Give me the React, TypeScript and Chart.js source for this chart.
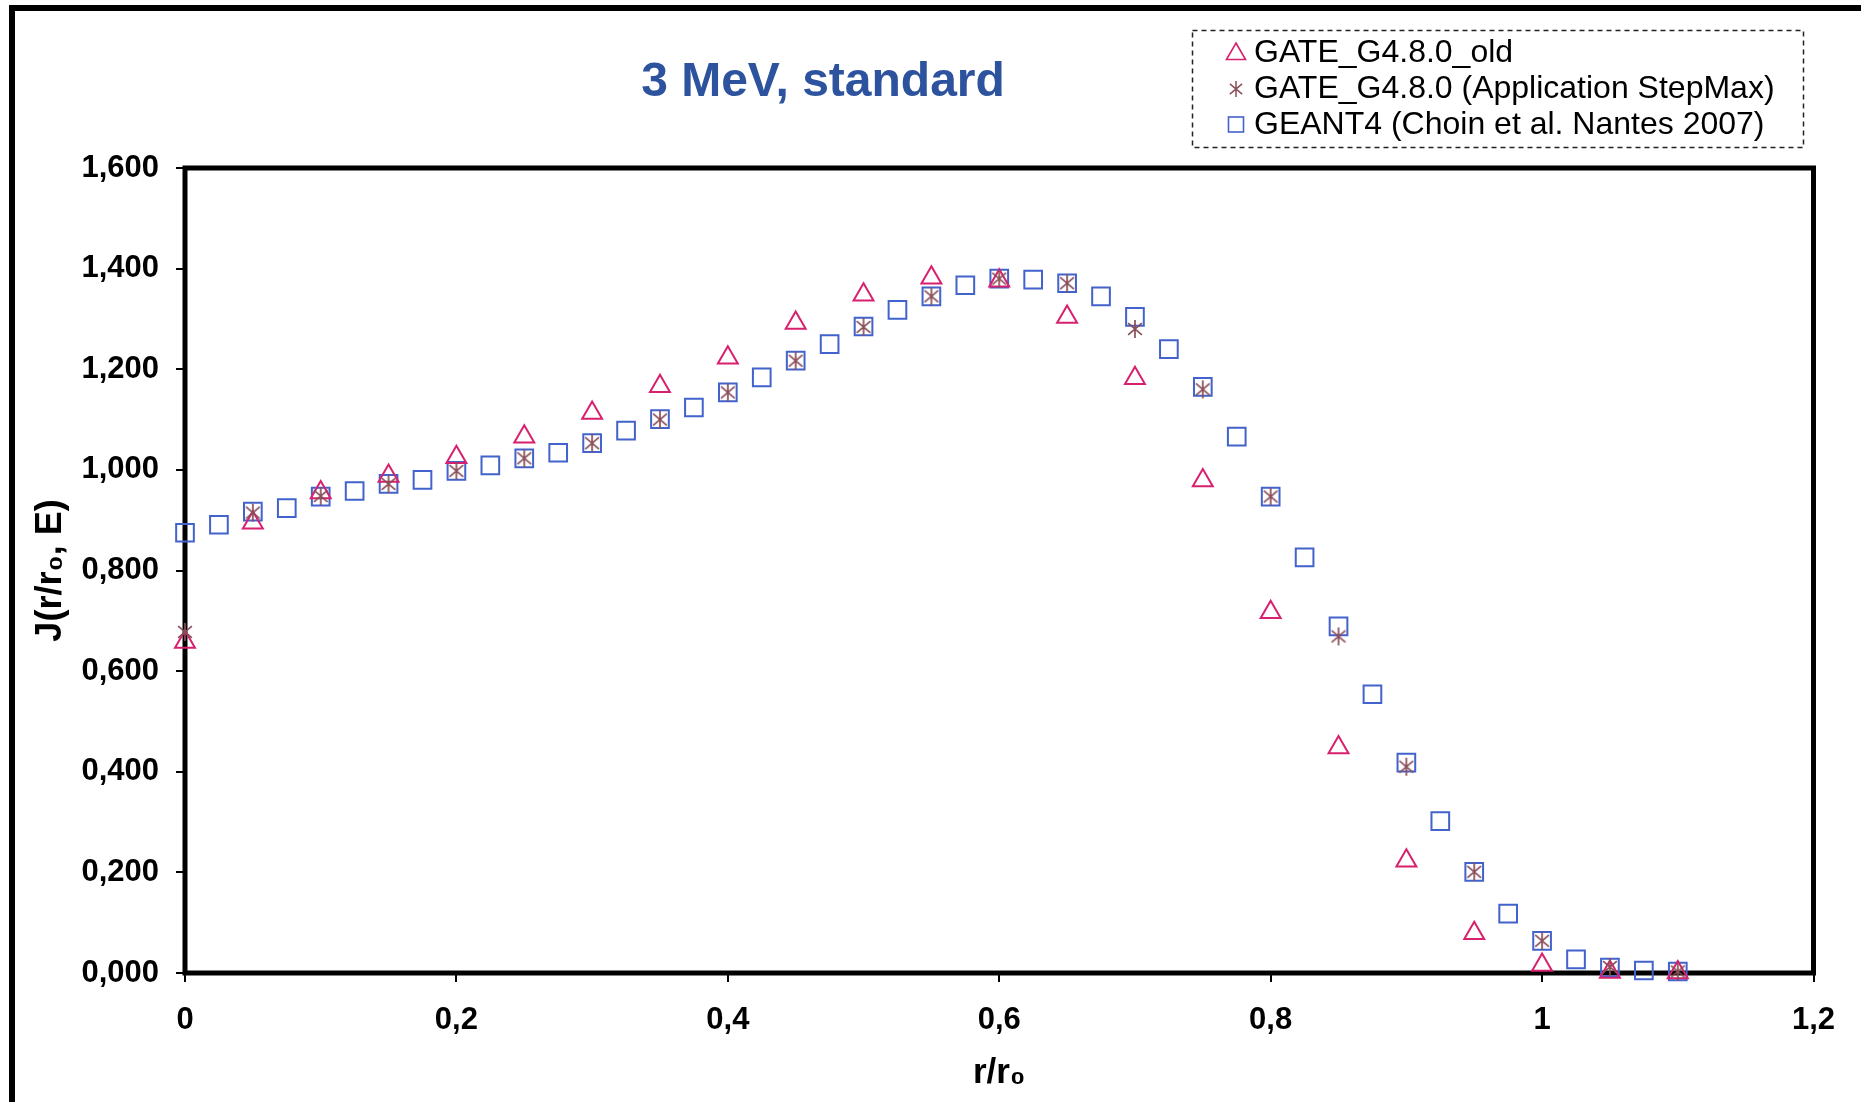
import React, { useEffect, useRef } from 'react';
import { Chart, registerables } from 'chart.js';

Chart.register(...registerables);

// ---------- Texts ----------
const TITLE = '3 MeV, standard';
const X_TITLE = 'r/r\u2080';
const Y_TITLE = 'J(r/r\u2080, E)';
const SERIES_NAMES = [
  'GATE_G4.8.0_old',
  'GATE_G4.8.0 (Application StepMax)',
  'GEANT4 (Choin et al. Nantes 2007)',
];

// ---------- Data ----------
const xCoarse = [
  0, 0.05, 0.1, 0.15, 0.2, 0.25, 0.3, 0.35, 0.4, 0.45, 0.5, 0.55,
  0.6, 0.65, 0.7, 0.75, 0.8, 0.85, 0.9, 0.95, 1.0, 1.05, 1.1,
];
const gateOld = [
  0.658, 0.895, 0.955, 0.988, 1.025, 1.066, 1.113, 1.166, 1.223, 1.292, 1.348, 1.382,
  1.376, 1.304, 1.182, 0.979, 0.717, 0.448, 0.223, 0.079, 0.016, 0.002, 0.001,
];
const gateStepMax = [
  0.678, 0.915, 0.948, 0.972, 0.998, 1.023, 1.053, 1.1, 1.154, 1.217, 1.284, 1.345,
  1.38, 1.371, 1.28, 1.16, 0.947, 0.669, 0.41, 0.201, 0.064, 0.012, 0.003,
];
const xFine = [
  0, 0.025, 0.05, 0.075, 0.1, 0.125, 0.15, 0.175, 0.2, 0.225, 0.25, 0.275,
  0.3, 0.325, 0.35, 0.375, 0.4, 0.425, 0.45, 0.475, 0.5, 0.525, 0.55, 0.575,
  0.6, 0.625, 0.65, 0.675, 0.7, 0.725, 0.75, 0.775, 0.8, 0.825, 0.85, 0.875,
  0.9, 0.925, 0.95, 0.975, 1.0, 1.025, 1.05, 1.075, 1.1,
];
const geant4 = [
  0.875, 0.891, 0.917, 0.924, 0.947, 0.958, 0.972, 0.98, 0.998, 1.009, 1.023, 1.034,
  1.053, 1.078, 1.101, 1.124, 1.154, 1.184, 1.217, 1.25, 1.285, 1.318, 1.345, 1.367,
  1.38, 1.378, 1.371, 1.345, 1.304, 1.24, 1.165, 1.066, 0.947, 0.826, 0.689, 0.554,
  0.418, 0.302, 0.201, 0.118, 0.064, 0.027, 0.011, 0.005, 0.003,
];

// ---------- Ticks ----------
const xTickValues = [0, 0.2, 0.4, 0.6, 0.8, 1, 1.2];
const xTickLabels = ['0', '0,2', '0,4', '0,6', '0,8', '1', '1,2'];
const yTickValues = [0, 0.2, 0.4, 0.6, 0.8, 1.0, 1.2, 1.4, 1.6];
const yTickLabels = ['0,000', '0,200', '0,400', '0,600', '0,800', '1,000', '1,200', '1,400', '1,600'];

// ---------- Styles ----------
const FONT = '"Liberation Sans", Arial, Helvetica, sans-serif';
const COLOR_TRI = '#D8206E';
const COLOR_AST = '#8A4E58';
const COLOR_SQ = '#4262CC';
const TITLE_COLOR = '#2D539E';

function makeAsterisk(color: string, size: number, lw: number) {
  const c = document.createElement('canvas');
  c.width = size;
  c.height = size;
  const ctx = c.getContext('2d')!;
  ctx.strokeStyle = color;
  ctx.lineWidth = lw;
  const m = size / 2;
  const r = size / 2 - 1;
  ctx.beginPath();
  ctx.moveTo(m, m - r);
  ctx.lineTo(m, m + r);
  const a = (50 * Math.PI) / 180;
  const dx = r * Math.sin(a);
  const dy = r * Math.cos(a);
  ctx.moveTo(m - dx, m - dy);
  ctx.lineTo(m + dx, m + dy);
  ctx.moveTo(m + dx, m - dy);
  ctx.lineTo(m - dx, m + dy);
  ctx.stroke();
  return c;
}

function drawTriangle(ctx: CanvasRenderingContext2D, x: number, y: number, r: number) {
  ctx.beginPath();
  ctx.moveTo(x, y - r);
  ctx.lineTo(x + r * Math.sin(Math.PI / 3), y + r * 0.5);
  ctx.lineTo(x - r * Math.sin(Math.PI / 3), y + r * 0.5);
  ctx.closePath();
  ctx.stroke();
}

const decorPlugin = {
  id: 'decor',
  beforeDatasetsDraw(chart: any) {
    const { ctx, chartArea: a } = chart;
    ctx.save();
    ctx.strokeStyle = '#000';
    ctx.lineWidth = 5;
    ctx.strokeRect(a.left, a.top, a.right - a.left, a.bottom - a.top);
    ctx.restore();
  },
  afterDraw(chart: any) {
    const { ctx } = chart;
    ctx.save();
    // Title
    ctx.font = `bold 48px ${FONT}`;
    ctx.fillStyle = TITLE_COLOR;
    ctx.textAlign = 'center';
    ctx.textBaseline = 'middle';
    ctx.fillText(TITLE, 823, 83);

    // Legend box
    ctx.setLineDash([5, 4]);
    ctx.lineWidth = 1.5;
    ctx.strokeStyle = '#222';
    ctx.strokeRect(1192.5, 30.5, 611, 117);
    ctx.setLineDash([]);

    const rows = [52, 88, 124];
    const mx = 1236;
    ctx.font = `32px ${FONT}`;
    ctx.fillStyle = '#000';
    ctx.textAlign = 'left';
    ctx.textBaseline = 'middle';
    chart.data.datasets.forEach((ds: any, i: number) => {
      const y = rows[i];
      ctx.strokeStyle = ds.borderColor;
      ctx.lineWidth = 1.6;
      if (ds.pointStyle === 'triangle') {
        drawTriangle(ctx, mx, y + 2, 11);
      } else if (ds.pointStyle === 'rect') {
        ctx.strokeRect(mx - 7.5, y - 7, 15, 15);
      } else if (ds.pointStyle instanceof HTMLCanvasElement) {
        const img = ds.legendImage || ds.pointStyle;
        ctx.drawImage(img, mx - img.width / 2, y - img.height / 2 + 1);
      }
      ctx.fillText(ds.label, 1254, y + 1);
    });
    ctx.restore();
  },
};

export default function App() {
  const canvasRef = useRef<HTMLCanvasElement | null>(null);

  useEffect(() => {
    const canvas = canvasRef.current;
    if (!canvas) return;
    const asterisk = makeAsterisk(COLOR_AST, 20, 1.7);
    const asteriskLegend = makeAsterisk(COLOR_AST, 18, 1.5);

    Chart.defaults.font.family = FONT;

    const chart = new Chart(canvas, {
      type: 'scatter',
      data: {
        datasets: [
          {
            label: SERIES_NAMES[0],
            data: xCoarse.map((x, i) => ({ x, y: gateOld[i] })),
            pointStyle: 'triangle',
            pointRadius: 11.5,
            borderColor: COLOR_TRI,
            backgroundColor: 'rgba(0,0,0,0)',
            pointBorderWidth: 2,
            showLine: false,
            clip: false,
            order: 2,
          } as any,
          {
            label: SERIES_NAMES[1],
            data: xCoarse.map((x, i) => ({ x, y: gateStepMax[i] })),
            pointStyle: asterisk,
            legendImage: asteriskLegend,
            pointRadius: 10,
            borderColor: COLOR_AST,
            backgroundColor: 'rgba(0,0,0,0)',
            showLine: false,
            clip: false,
            order: 1,
          } as any,
          {
            label: SERIES_NAMES[2],
            data: xFine.map((x, i) => ({ x, y: geant4[i] })),
            pointStyle: 'rect',
            pointRadius: 12.5,
            borderColor: COLOR_SQ,
            backgroundColor: 'rgba(0,0,0,0)',
            pointBorderWidth: 2,
            showLine: false,
            clip: false,
            order: 3,
          } as any,
        ],
      },
      options: {
        responsive: false,
        animation: false,
        events: [],
        layout: { padding: { left: 0, right: 47.5, top: 168, bottom: 0 } },
        plugins: {
          legend: { display: false },
          title: { display: false },
          tooltip: { enabled: false },
        },
        scales: {
          x: {
            type: 'linear',
            min: 0,
            max: 1.2,
            afterBuildTicks: (scale: any) => {
              scale.ticks = xTickValues.map((v) => ({ value: v }));
            },
            afterFit: (scale: any) => {
              scale.height = 129;
            },
            ticks: {
              color: '#000',
              font: { size: 31, weight: 'bold' },
              padding: 20,
              maxRotation: 0,
              autoSkip: false,
              callback: (_v: any, i: number) => xTickLabels[i],
            },
            grid: {
              display: true,
              drawOnChartArea: false,
              drawTicks: true,
              tickLength: 9,
              color: '#000',
              lineWidth: 2,
            },
            border: { display: false },
            title: {
              display: true,
              text: X_TITLE,
              color: '#000',
              font: { size: 35, weight: 'bold' },
              padding: { top: 0, bottom: 8 },
            },
          },
          y: {
            type: 'linear',
            min: 0,
            max: 1.6,
            afterBuildTicks: (scale: any) => {
              scale.ticks = yTickValues.map((v) => ({ value: v }));
            },
            afterFit: (scale: any) => {
              scale.width = 185;
            },
            ticks: {
              color: '#000',
              font: { size: 31, weight: 'bold' },
              padding: 17,
              autoSkip: false,
              callback: (_v: any, i: number) => yTickLabels[i],
            },
            grid: {
              display: true,
              drawOnChartArea: false,
              drawTicks: true,
              tickLength: 9,
              color: '#000',
              lineWidth: 2,
            },
            border: { display: false },
            title: {
              display: true,
              text: Y_TITLE,
              color: '#000',
              font: { size: 36, weight: 'bold' },
              padding: { top: 29, bottom: 0 },
            },
          },
        },
      } as any,
      plugins: [decorPlugin],
    });

    return () => {
      chart.destroy();
    };
  }, []);

  return (
    <div
      style={{
        position: 'absolute',
        left: 0,
        top: 0,
        width: 1861,
        height: 1102,
        background: '#fff',
        overflow: 'hidden',
      }}
    >
      <canvas
        ref={canvasRef}
        width={1861}
        height={1102}
        style={{ position: 'absolute', left: 0, top: 0, display: 'block' }}
      />
      <div
        style={{
          position: 'absolute',
          left: 9,
          top: 5,
          width: 1900,
          height: 1200,
          borderLeft: '6px solid #000',
          borderTop: '6px solid #000',
          pointerEvents: 'none',
        }}
      />
    </div>
  );
}
